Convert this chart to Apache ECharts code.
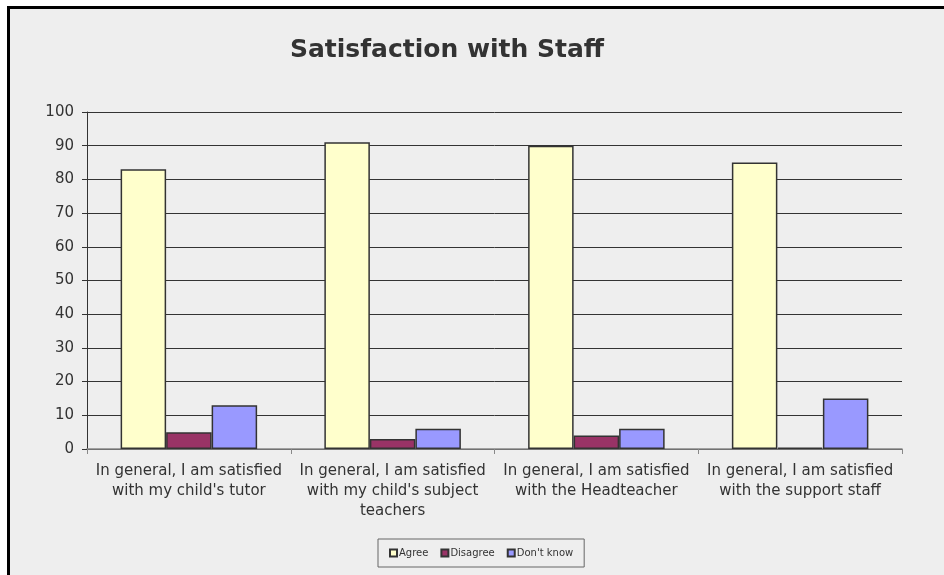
<!DOCTYPE html>
<html>
<head>
<meta charset="utf-8">
<script src="https://cdn.jsdelivr.net/npm/echarts@6/dist/echarts.min.js"></script>
<style>
  body { margin: 0; background: #ffffff; }
  #chart {
    position: absolute; left: 7px; top: 6px;
    width: 937px; height: 569px;
    border-left: 3px solid #000; border-top: 3px solid #000;
    box-sizing: border-box;
  }
</style>
</head>
<body>
<div id="chart"></div>
<script>
const categories = [
  "In general, I am satisfied\nwith my child's tutor",
  "In general, I am satisfied\nwith my child's subject\nteachers",
  "In general, I am satisfied\nwith the Headteacher",
  "In general, I am satisfied\nwith the support staff"
];
const agree = [83, 91, 90, 85];
const disagree = [5, 3, 4, 0.4];
const dontKnow = [13, 6, 6, 15];
const seriesNames = ["Agree", "Disagree", "Don't know"];
const colors = ["#ffffcc", "#993366", "#9999ff"];

const chart = echarts.init(document.getElementById("chart"));

const barStyle = (c) => ({
  color: c,
  borderColor: "#333333",
  borderWidth: 1.5
});

const option = {
  backgroundColor: "#eeeeee",
  animation: false,
  textStyle: { fontFamily: "DejaVu Sans, Verdana, sans-serif" },
  title: {
    text: "Satisfaction with Staff",
    left: 432,
    textAlign: "center",
    top: 24,
    textStyle: { fontSize: 25, fontWeight: "bold", color: "#333333", fontFamily: "DejaVu Sans" }
  },
  grid: { left: 77, right: 42, top: 103, bottom: 126 },
  legend: {
    data: seriesNames,
    bottom: 8,
    left: 368,
    icon: "rect",
    itemWidth: 7,
    itemHeight: 7,
    itemGap: 12,
    padding: [9, 11],
    borderColor: "#666666",
    borderWidth: 1,
    backgroundColor: "#eeeeee",
    textStyle: { fontSize: 10, color: "#333333", padding: [0, 0, 0, -3] }
  },
  xAxis: {
    type: "category",
    data: categories,
    axisLine: { lineStyle: { color: "#888888", width: 1.5 } },
    axisTick: { show: true, length: 5, lineStyle: { color: "#888888" } },
    axisLabel: {
      interval: 0,
      fontSize: 15,
      color: "#333333",
      lineHeight: 20,
      margin: 12
    }
  },
  yAxis: {
    type: "value",
    min: 0,
    max: 100,
    interval: 10,
    axisLine: { show: true, lineStyle: { color: "#333333" } },
    axisTick: { show: true, length: 5, lineStyle: { color: "#333333" } },
    axisLabel: { fontSize: 15, color: "#333333", margin: 13 },
    splitLine: { lineStyle: { color: "#333333", width: 1 } }
  },
  series: [
    { name: seriesNames[0], type: "bar", data: agree, barGap: "0%", barCategoryGap: "33%", itemStyle: barStyle(colors[0]) },
    { name: seriesNames[1], type: "bar", data: disagree, barGap: "0%", barCategoryGap: "33%", itemStyle: barStyle(colors[1]) },
    { name: seriesNames[2], type: "bar", data: dontKnow, barGap: "0%", barCategoryGap: "33%", itemStyle: barStyle(colors[2]) }
  ]
};

chart.setOption(option);
window.addEventListener("resize", () => chart.resize());
</script>
</body>
</html>
